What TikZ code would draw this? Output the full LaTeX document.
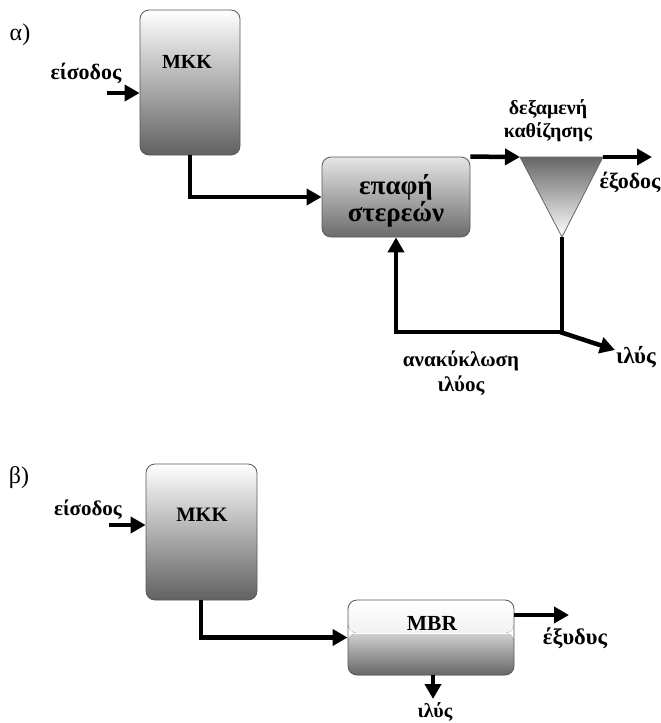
\documentclass[tikz,border=0pt]{standalone}
\usepackage{fontspec}
\setmainfont{Liberation Serif}
\usetikzlibrary{arrows.meta,calc}
\newcommand{\fsz}[1]{\fontsize{#1}{#1}\selectfont\bfseries}
\begin{document}
\begin{tikzpicture}[x=1pt,y=-1pt,
  lbl/.style={inner sep=0pt, align=center},
  part/.style={font=\fontsize{24}{26}\selectfont, inner sep=0pt},
  conn/.style={line width=4.5pt},
  arr/.style={conn, -{Triangle[length=15pt,width=16pt]}},
  boxborder/.style={draw=black!65, line width=0.8pt, rounded corners=9pt, inner sep=0pt}
]
\useasboundingbox (0,0) rectangle (661,723);

% ---------- part alpha ----------
\node[part] (la) at (20,35) {α)};
\node[boxborder, minimum width=100pt, minimum height=145pt,
      top color=white, middle color=black!18, bottom color=black!62] (mkkA) at (190,82.5) {};
\node[lbl, font=\fsz{20}] (mkkAt) at (187,62) {MKK};
\node[lbl, font=\fsz{22}] (inAl) at (86,73) {είσοδος};
\coordinate (inAs) at (107,93);
\draw[arr] (inAs) -- (inAs -| mkkA.west);

\node[boxborder, minimum width=148pt, minimum height=80pt,
      top color=black!10, bottom color=black!58] (epA) at (396,197) {};
\node[lbl, font=\fontsize{27}{27}\selectfont\bfseries] (epAt) at (396,201) {επαφή\\στερεών};

\coordinate (tl) at (520,157);
\coordinate (tr) at (603,157);
\coordinate (tb) at (562,237);
\path[draw=black!60, line width=0.8pt, top color=black!60, bottom color=white] (tl) -- (tr) -- (tb) -- cycle;
\node[lbl, font=\fontsize{20}{23}\selectfont\bfseries] (tankl) at (548,121) {δεξαμενή\\καθίζησης};

\draw[arr] (mkkA.south) |- (epA.west);
\draw[arr] (epA.north east) -- (tl);
\coordinate (outA) at (652,157);
\draw[arr] (tr) -- (outA);
\node[lbl, font=\fsz{22}] (outAl) at (630,182) {έξοδος};

\coordinate (jn) at (562,332);
\draw[arr] (tb) -- (jn) -| (epA.south);
\coordinate (slA) at (615,350);
\draw[arr] ([xshift=-2pt]jn) -- (slA);
\node[lbl, font=\fsz{23}] (slAl) at (636,357) {ιλύς};
\node[lbl, font=\fontsize{21}{25}\selectfont\bfseries] (recl) at (461,373) {ανακύκλωση\\ιλύος};

% ---------- part beta ----------
\node[part] (lb) at (19,478) {β)};
\node[boxborder, minimum width=111pt, minimum height=136pt,
      top color=white, middle color=black!18, bottom color=black!62] (mkkB) at (201.5,532) {};
\node[lbl, font=\fsz{20.5}] (mkkBt) at (202,515) {MKK};
\node[lbl, font=\fsz{21}] (inBl) at (88,510) {είσοδος};
\coordinate (inBs) at (109,525);
\draw[arr] (inBs) -- (inBs -| mkkB.west);

\node[boxborder, minimum width=166pt, minimum height=75pt,
      path picture={
        \fill[top color=white, bottom color=black!12]
          (path picture bounding box.north west) rectangle ([yshift=-33pt]path picture bounding box.north east);
        \fill[top color=black!18, bottom color=black!60]
          ([yshift=-33pt]path picture bounding box.north west) rectangle (path picture bounding box.south east);
        \draw[white, line width=0.9pt]
          ([yshift=-33pt]path picture bounding box.north west) -- ([yshift=-33pt]path picture bounding box.north east);
      }] (mbr) at (431,637.5) {};
\node[lbl, font=\fsz{21.5}] (mbrt) at (432,623) {MBR};

\coordinate (dnB) at (201,600);
\draw[arr] (dnB) |- (mbr.west);
\coordinate (outBs) at (514,615);
\coordinate (outB) at (569,615);
\draw[arr] (outBs) -- (outB);
\node[lbl, font=\fsz{22.5}] (outBl) at (575,638) {έξυδυς};
\coordinate (slB) at (433,699);
\draw[arr] (mbr.south) ++(2,0) coordinate (slBs) -- (slB);
\node[lbl, font=\fsz{20}] (slBl) at (435,712) {ιλύς};
\end{tikzpicture}
\end{document}
